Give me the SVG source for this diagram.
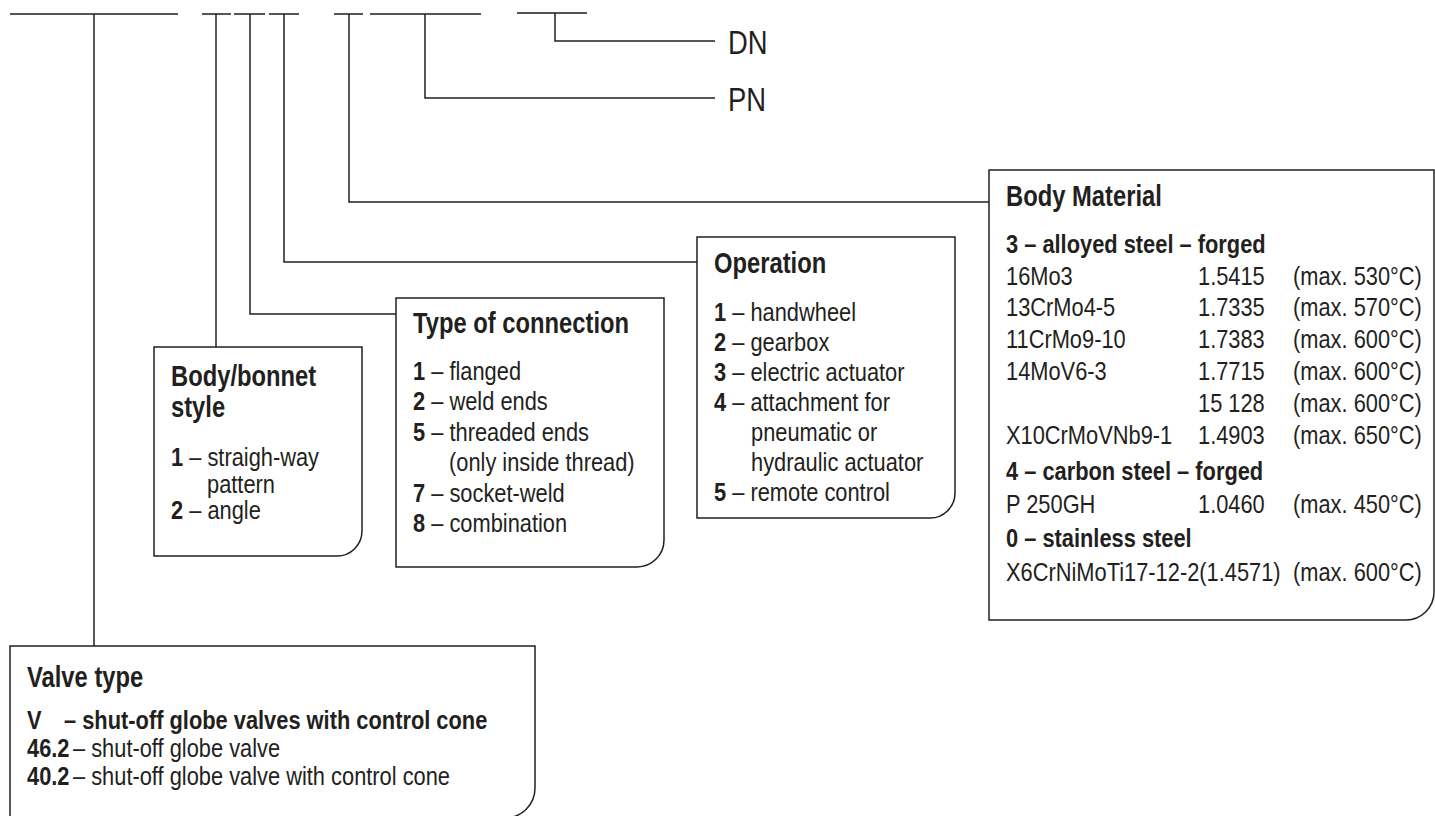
<svg xmlns="http://www.w3.org/2000/svg" width="1435" height="816" viewBox="0 0 1435 816">
<style>
  text { font-family: 'Liberation Sans', Arial, sans-serif; font-size: 26px; fill: #231f20;
         transform-box: fill-box; transform-origin: 0 0; transform: scaleX(0.84); }
  .h { font-size: 29px; font-weight: bold; transform: scaleX(0.82); }
  .b { font-weight: bold; }
  .big { font-size: 33px; transform: scaleX(0.83); }
  .box { fill: #ffffff; stroke: #231f20; stroke-width: 1.5; }
  .ln { fill: none; stroke: #231f20; stroke-width: 1.5; }
  .top { fill: none; stroke: #555555; stroke-width: 2; }
</style>
<rect width="1435" height="816" fill="#ffffff"/>

<g id="code-line">
  <path class="top" d="M10,14H178 M202,14H231 M234,14H265 M269,14H299 M334,14H363 M370,14H481 M517,13H587"/>
</g>

<g id="connectors">
  <path class="ln" d="M94,14V646"/>
  <path class="ln" d="M216,14V347"/>
  <path class="ln" d="M250,14V314H396"/>
  <path class="ln" d="M284,14V262H697"/>
  <path class="ln" d="M349,14V202H989"/>
  <path class="ln" d="M425,14V98H715"/>
  <path class="ln" d="M555,13V41H715"/>
</g>

<g id="dn">
  <text class="big" x="728" y="54">DN</text>
</g>
<g id="pn">
  <text class="big" x="728" y="111">PN</text>
</g>

<g id="body-bonnet">
  <path class="box" d="M154,347H362V531A25,25 0 0 1 337,556H154Z"/>
  <text class="h" x="171" y="386">Body/bonnet</text>
  <text class="h" x="171" y="417">style</text>
  <text x="171" y="466"><tspan class="b">1</tspan> – straigh-way</text>
  <text x="207" y="493">pattern</text>
  <text x="171" y="519"><tspan class="b">2</tspan> – angle</text>
</g>

<g id="type-of-connection">
  <path class="box" d="M396,298H664V540A27,27 0 0 1 637,567H396Z"/>
  <text class="h" x="413" y="333">Type of connection</text>
  <text x="413" y="380"><tspan class="b">1</tspan> – flanged</text>
  <text x="413" y="410.5"><tspan class="b">2</tspan> – weld ends</text>
  <text x="413" y="441"><tspan class="b">5</tspan> – threaded ends</text>
  <text x="449" y="471.5">(only inside thread)</text>
  <text x="413" y="502"><tspan class="b">7</tspan> – socket-weld</text>
  <text x="413" y="532.5"><tspan class="b">8</tspan> – combination</text>
</g>

<g id="operation">
  <path class="box" d="M697,237H955V493A25,25 0 0 1 930,518H697Z"/>
  <text class="h" x="714" y="273">Operation</text>
  <text x="714" y="321"><tspan class="b">1</tspan> – handwheel</text>
  <text x="714" y="351"><tspan class="b">2</tspan> – gearbox</text>
  <text x="714" y="381"><tspan class="b">3</tspan> – electric actuator</text>
  <text x="714" y="411"><tspan class="b">4</tspan> – attachment for</text>
  <text x="751" y="441">pneumatic or</text>
  <text x="751" y="471">hydraulic actuator</text>
  <text x="714" y="501"><tspan class="b">5</tspan> – remote control</text>
</g>

<g id="body-material">
  <path class="box" d="M989,170H1434V592A28,28 0 0 1 1406,620H989Z"/>
  <text class="h" x="1006" y="206">Body Material</text>
  <text class="b" x="1006" y="253">3 – alloyed steel – forged</text>
  <text x="1006" y="285">16Mo3</text><text x="1198" y="285">1.5415</text><text x="1293" y="285">(max. 530°C)</text>
  <text x="1006" y="316">13CrMo4-5</text><text x="1198" y="316">1.7335</text><text x="1293" y="316">(max. 570°C)</text>
  <text x="1006" y="348">11CrMo9-10</text><text x="1198" y="348">1.7383</text><text x="1293" y="348">(max. 600°C)</text>
  <text x="1006" y="380">14MoV6-3</text><text x="1198" y="380">1.7715</text><text x="1293" y="380">(max. 600°C)</text>
  <text x="1198" y="412">15 128</text><text x="1293" y="412">(max. 600°C)</text>
  <text x="1006" y="444">X10CrMoVNb9-1</text><text x="1198" y="444">1.4903</text><text x="1293" y="444">(max. 650°C)</text>
  <text class="b" x="1006" y="480">4 – carbon steel – forged</text>
  <text x="1006" y="513">P 250GH</text><text x="1198" y="513">1.0460</text><text x="1293" y="513">(max. 450°C)</text>
  <text class="b" x="1006" y="547">0 – stainless steel</text>
  <text x="1006" y="581">X6CrNiMoTi17-12-2(1.4571)</text><text x="1293" y="581">(max. 600°C)</text>
</g>

<g id="valve-type">
  <path class="box" d="M10,820V646H535V788A30,30 0 0 1 505,818H10"/>
  <text class="h" x="27" y="687">Valve type</text>
  <text class="b" x="27" y="729">V</text>
  <text class="b" x="64" y="729">– shut-off globe valves with control cone</text>
  <text class="b" x="27" y="757">46.2</text>
  <text x="73" y="757">– shut-off globe valve</text>
  <text class="b" x="27" y="785">40.2</text>
  <text x="73" y="785">– shut-off globe valve with control cone</text>
</g>
</svg>
